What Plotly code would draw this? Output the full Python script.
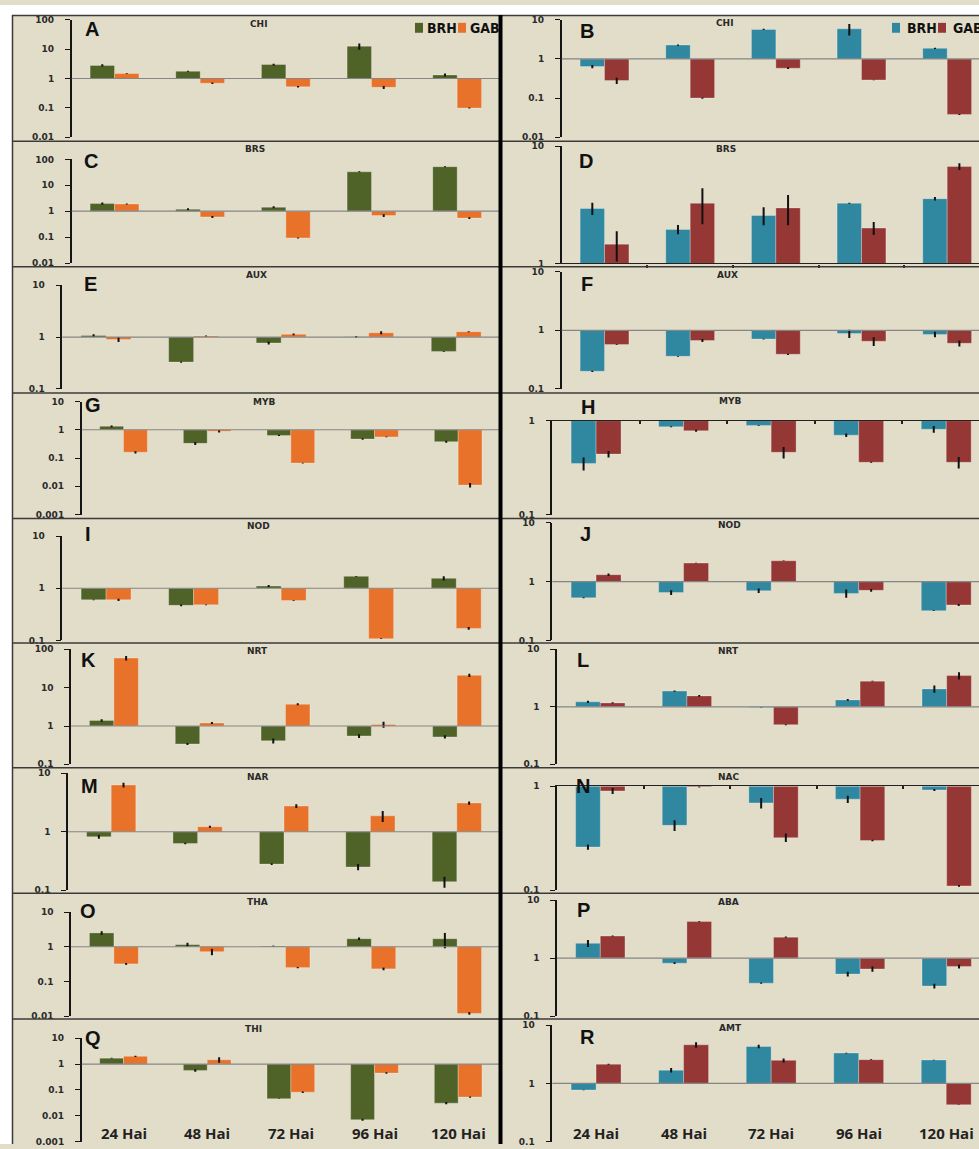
import math
import plotly.graph_objects as go

W, H = 979, 1149

hours = ["24 Hai", "48 Hai", "72 Hai", "96 Hai", "120 Hai"]
decade_vals = [0.001, 0.01, 0.1, 1, 10, 100]
decade_text = ["0.001", "0.01", "0.1", "1", "10", "100"]
series_names = ["BRH", "GAB"]

# Relative expression (fold change) per time point, with error half-widths.
# Left column
a_brh = [2.8, 1.77, 3.0, 12.6, 1.32]
a_brh_err = [0.25, 0.08, 0.2, 3.0, 0.15]
a_gab = [1.47, 0.69, 0.52, 0.5, 0.098]
a_gab_err = [0.05, 0.04, 0.03, 0.06, 0.004]

c_brh = [1.96, 1.19, 1.42, 33, 52]
c_brh_err = [0.2, 0.1, 0.12, 1.5, 2.5]
c_gab = [1.9, 0.6, 0.093, 0.68, 0.54]
c_gab_err = [0.08, 0.05, 0.004, 0.08, 0.04]

e_brh = [1.07, 0.33, 0.77, 1.01, 0.53]
e_brh_err = [0.06, 0.01, 0.05, 0.04, 0.01]
e_gab = [0.9, 1.05, 1.13, 1.21, 1.27]
e_gab_err = [0.1, 0.02, 0.04, 0.08, 0.03]

g_brh = [1.33, 0.33, 0.63, 0.47, 0.38]
g_brh_err = [0.1, 0.04, 0.03, 0.03, 0.03]
g_gab = [0.16, 0.88, 0.066, 0.56, 0.011]
g_gab_err = [0.015, 0.08, 0.002, 0.02, 0.002]

i_brh = [0.6, 0.47, 1.1, 1.69, 1.55]
i_brh_err = [0.01, 0.02, 0.05, 0.03, 0.15]
i_gab = [0.6, 0.48, 0.58, 0.108, 0.17]
i_gab_err = [0.03, 0.01, 0.01, 0.002, 0.01]

k_brh = [1.4, 0.34, 0.41, 0.55, 0.52]
k_brh_err = [0.1, 0.02, 0.06, 0.06, 0.05]
k_gab = [59, 1.2, 3.7, 1.1, 21]
k_gab_err = [8, 0.08, 0.2, 0.2, 2]

m_brh = [0.82, 0.63, 0.28, 0.25, 0.14]
m_brh_err = [0.06, 0.02, 0.01, 0.03, 0.03]
m_gab = [6.3, 1.22, 2.75, 1.87, 3.1]
m_gab_err = [0.6, 0.05, 0.2, 0.4, 0.2]

o_brh = [2.5, 1.15, 1.05, 1.7, 1.7]
o_brh_err = [0.3, 0.15, 0.03, 0.15, 0.8]
o_gab = [0.32, 0.72, 0.25, 0.23, 0.012]
o_gab_err = [0.02, 0.15, 0.01, 0.02, 0.001]

q_brh = [1.7, 0.57, 0.046, 0.0071, 0.031]
q_brh_err = [0.05, 0.06, 0.001, 0.0007, 0.003]
q_gab = [2.0, 1.47, 0.082, 0.45, 0.053]
q_gab_err = [0.1, 0.35, 0.006, 0.03, 0.003]

# Right column
b_brh = [0.64, 2.27, 5.7, 5.9, 1.87]
b_brh_err = [0.06, 0.08, 0.2, 1.9, 0.06]
b_gab = [0.28, 0.1, 0.58, 0.29, 0.038]
b_gab_err = [0.05, 0.004, 0.03, 0.006, 0.001]

d_brh = [2.94, 1.95, 2.56, 3.26, 3.56]
d_brh_err = [0.35, 0.18, 0.45, 0.03, 0.12]
d_gab = [1.46, 3.26, 2.97, 2.0, 6.69]
d_gab_err = [0.42, 1.1, 0.85, 0.25, 0.45]

f_brh = [0.2, 0.36, 0.71, 0.88, 0.85]
f_brh_err = [0.005, 0.005, 0.01, 0.14, 0.09]
f_gab = [0.57, 0.67, 0.39, 0.65, 0.6]
f_gab_err = [0.01, 0.04, 0.01, 0.11, 0.07]

h_brh = [0.35, 0.86, 0.89, 0.7, 0.81]
h_brh_err = [0.055, 0.01, 0.01, 0.03, 0.065]
h_gab = [0.44, 0.78, 0.46, 0.36, 0.36]
h_gab_err = [0.035, 0.02, 0.065, 0.005, 0.05]

j_brh = [0.53, 0.65, 0.7, 0.63, 0.32]
j_brh_err = [0.01, 0.06, 0.06, 0.1, 0.005]
j_gab = [1.31, 2.06, 2.26, 0.71, 0.4]
j_gab_err = [0.06, 0.02, 0.02, 0.04, 0.015]

l_brh = [1.22, 1.88, 0.97, 1.32, 2.05]
l_brh_err = [0.05, 0.05, 0.01, 0.05, 0.3]
l_gab = [1.17, 1.55, 0.49, 2.8, 3.5]
l_gab_err = [0.03, 0.05, 0.01, 0.05, 0.5]

n_brh = [0.26, 0.42, 0.69, 0.75, 0.92]
n_brh_err = [0.015, 0.05, 0.08, 0.06, 0.02]
n_gab = [0.9, 0.98, 0.32, 0.3, 0.11]
n_gab_err = [0.06, 0.01, 0.03, 0.005, 0.002]

p_brh = [1.8, 0.82, 0.37, 0.53, 0.33]
p_brh_err = [0.25, 0.03, 0.01, 0.05, 0.03]
p_gab = [2.4, 4.3, 2.3, 0.65, 0.72]
p_gab_err = [0.05, 0.05, 0.05, 0.07, 0.06]

r_brh = [0.77, 1.68, 4.3, 3.31, 2.52]
r_brh_err = [0.01, 0.15, 0.3, 0.05, 0.03]
r_gab = [2.13, 4.58, 2.48, 2.55, 0.43]
r_gab_err = [0.05, 0.5, 0.2, 0.03, 0.005]

LEFT_COLORS = ("#4F6228", "#E8722A")
RIGHT_COLORS = ("#2F87A0", "#953735")
BG = "#E2DDC8"

# Panel layout: letter, gene, data, column, y-axis x (px), top/bottom (px),
# log10 range, letter centre (px), title centre (px)
panels = [
    dict(letter="A", gene="CHI", d=(a_brh, a_brh_err, a_gab, a_gab_err), side="L",
         ax=71.7, top=15, bot=133.3, lo=-2, hi=2, lxy=(91.5, 24.5), txy=(259, 19.5)),
    dict(letter="B", gene="CHI", d=(b_brh, b_brh_err, b_gab, b_gab_err), side="R",
         ax=561.7, top=15, bot=133.3, lo=-2, hi=1, lxy=(586.5, 26), txy=(725, 18)),
    dict(letter="C", gene="BRS", d=(c_brh, c_brh_err, c_gab, c_gab_err), side="L",
         ax=71.7, top=155.7, bot=260.3, lo=-2, hi=2, lxy=(91, 157), txy=(254.5, 145.5)),
    dict(letter="D", gene="BRS", d=(d_brh, d_brh_err, d_gab, d_gab_err), side="R",
         ax=561.7, top=142.3, bot=260.7, lo=0, hi=1, lxy=(586, 157), txy=(726, 145)),
    dict(letter="E", gene="AUX", d=(e_brh, e_brh_err, e_gab, e_gab_err), side="L",
         ax=62.3, top=282.7, bot=387.3, lo=-1, hi=1, lxy=(90, 281), txy=(256.5, 272.5)),
    dict(letter="F", gene="AUX", d=(f_brh, f_brh_err, f_gab, f_gab_err), side="R",
         ax=561.7, top=269, bot=387.3, lo=-1, hi=1, lxy=(587, 281), txy=(727.5, 272.5)),
    dict(letter="G", gene="MYB", d=(g_brh, g_brh_err, g_gab, g_gab_err), side="L",
         ax=81.7, top=400, bot=514, lo=-3, hi=1, lxy=(93, 404), txy=(264, 400)),
    dict(letter="H", gene="MYB", d=(h_brh, h_brh_err, h_gab, h_gab_err), side="R",
         ax=552.3, top=419.3, bot=514, lo=-1, hi=0, lxy=(588, 406), txy=(729.5, 399)),
    dict(letter="I", gene="NOD", d=(i_brh, i_brh_err, i_gab, i_gab_err), side="L",
         ax=62.3, top=535.7, bot=641, lo=-1, hi=1, lxy=(88, 534), txy=(258, 525.5)),
    dict(letter="J", gene="NOD", d=(j_brh, j_brh_err, j_gab, j_gab_err), side="R",
         ax=552.3, top=522.3, bot=641, lo=-1, hi=1, lxy=(585, 534), txy=(729.5, 525)),
    dict(letter="K", gene="NRT", d=(k_brh, k_brh_err, k_gab, k_gab_err), side="L",
         ax=71, top=650, bot=766, lo=-1, hi=2, lxy=(88, 661), txy=(257, 652)),
    dict(letter="L", gene="NRT", d=(l_brh, l_brh_err, l_gab, l_gab_err), side="R",
         ax=557, top=650, bot=766, lo=-1, hi=1, lxy=(583, 661), txy=(728, 652)),
    dict(letter="M", gene="NAR", d=(m_brh, m_brh_err, m_gab, m_gab_err), side="L",
         ax=68, top=775, bot=893, lo=-1, hi=1, lxy=(89, 788), txy=(257, 779)),
    dict(letter="N", gene="NAC", d=(n_brh, n_brh_err, n_gab, n_gab_err), side="R",
         ax=557, top=788, bot=893, lo=-1, hi=0, lxy=(583, 788), txy=(728, 779)),
    dict(letter="O", gene="THA", d=(o_brh, o_brh_err, o_gab, o_gab_err), side="L",
         ax=71, top=915, bot=1020, lo=-2, hi=1, lxy=(88, 914), txy=(257, 905)),
    dict(letter="P", gene="ABA", d=(p_brh, p_brh_err, p_gab, p_gab_err), side="R",
         ax=557, top=903, bot=1020, lo=-1, hi=1, lxy=(583, 913), txy=(728, 905)),
    dict(letter="Q", gene="THI", d=(q_brh, q_brh_err, q_gab, q_gab_err), side="L",
         ax=81.7, top=1042.3, bot=1146.7, lo=-3, hi=1, lxy=(93, 1042), txy=(253, 1032.5)),
    dict(letter="R", gene="AMT", d=(r_brh, r_brh_err, r_gab, r_gab_err), side="R",
         ax=552.3, top=1029, bot=1146.7, lo=-1, hi=1, lxy=(587, 1041), txy=(730, 1031.5)),
]

BAR_W = 0.285
pos = list(range(len(hours)))

fig = go.Figure()
layout = {}
shapes = []
annotations = []


def px_x(v):
    return v / W


def px_y(v):
    return 1 - v / H


for k, p in enumerate(panels, start=1):
    sfx = "" if k == 1 else str(k)
    xr, yr = "x" + sfx, "y" + sfx
    brh, brh_err, gab, gab_err = p["d"]
    c_b, c_g = LEFT_COLORS if p["side"] == "L" else RIGHT_COLORS
    right = 500 if p["side"] == "L" else 990
    vis_right = min(right, W)
    xmax = -0.5 + len(hours) * (vis_right - p["ax"]) / (right - p["ax"])

    for vals, errs, col, off in ((brh, brh_err, c_b, -BAR_W), (gab, gab_err, c_g, 0.0)):
        # bars grow from the baseline at 1 towards each value
        fig.add_trace(go.Bar(
            x=pos, y=[v - 1 for v in vals], base=1, width=BAR_W, offset=off,
            marker=dict(color=col, line=dict(color="rgba(255,255,255,0.35)", width=0.8)),
            xaxis=xr, yaxis=yr, showlegend=False, hoverinfo="skip"))
        fig.add_trace(go.Scatter(
            x=[i + off + BAR_W / 2 for i in pos], y=vals, mode="markers",
            marker=dict(size=1, opacity=0),
            error_y=dict(type="data", array=errs, color="#111111", thickness=2, width=0),
            xaxis=xr, yaxis=yr, showlegend=False, hoverinfo="skip", cliponaxis=False))

    ticks_v = [v for v in decade_vals if p["lo"] - 1e-9 <= math.log10(v) <= p["hi"] + 1e-9]
    ticks_t = [decade_text[decade_vals.index(v)] for v in ticks_v]

    edge_bottom = p["lo"] == 0
    edge_top = p["hi"] == 0
    xaxis = dict(domain=[px_x(p["ax"]), px_x(vis_right)], range=[-0.5, xmax], anchor=yr,
                 showgrid=False, zeroline=False, showticklabels=False, fixedrange=True)
    if edge_bottom or edge_top:
        xaxis.update(showline=True, linecolor="#222222", linewidth=1.2,
                     tickvals=[i + 0.5 for i in pos[:-1]],
                     ticks="outside" if edge_bottom else "inside",
                     side="bottom" if edge_bottom else "top",
                     ticklen=3, tickwidth=1.5, tickcolor="#222222")
    else:
        xaxis.update(showline=False, ticks="")
    layout["xaxis" + sfx] = xaxis
    layout["yaxis" + sfx] = dict(
        type="log", domain=[px_y(p["bot"]), px_y(p["top"])], range=[p["lo"], p["hi"]],
        anchor=xr, showline=True, linecolor="#151515", linewidth=1.5,
        ticks="outside", ticklen=5, tickwidth=1.2, tickcolor="#151515",
        tickvals=ticks_v, ticktext=ticks_t, ticklabelstandoff=9,
        tickfont=dict(family="DejaVu Sans", size=9, color="#2a2a2a", weight="bold"),
        showgrid=False, zeroline=False, fixedrange=True)

    if not (edge_bottom or edge_top):
        # baseline at 1
        shapes.append(dict(type="line", xref=xr + " domain", x0=0, x1=1, yref=yr, y0=1, y1=1,
                           line=dict(color="#858585", width=1.2)))
        # small ticks between time points on the baseline
        for i in pos[:-1]:
            shapes.append(dict(type="line", xref=xr, x0=i + 0.5, x1=i + 0.5,
                               yref=yr, ysizemode="pixel", yanchor=1, y0=0, y1=-3.5,
                               line=dict(color="#222222", width=1.5)))

    annotations.append(dict(text=p["letter"], x=px_x(p["lxy"][0]), y=px_y(p["lxy"][1]),
                            xref="paper", yref="paper", showarrow=False,
                            xanchor="center", yanchor="middle",
                            font=dict(family="Liberation Sans, Arial", size=20, color="#111111",
                                      weight="bold")))
    annotations.append(dict(text=p["gene"], x=px_x(p["txy"][0]), y=px_y(p["txy"][1]),
                            xref="paper", yref="paper", showarrow=False,
                            xanchor="center", yanchor="middle",
                            font=dict(family="DejaVu Sans", size=9, color="#2a2a2a",
                                      weight="bold")))

    if p["letter"] in ("Q", "R"):
        for i, lab in enumerate(hours):
            annotations.append(dict(text=lab, x=i, xref=xr, y=px_y(1138), yref="paper",
                                    showarrow=False, xanchor="center", yanchor="middle",
                                    font=dict(family="Open Sans", size=15, color="#222222",
                                              weight="bold")))

# Legends at the top of each column
for (sq1, sq2, tx1, tx2), cols in (((415, 458, 425, 468), LEFT_COLORS),
                                    ((892, 938, 905, 951), RIGHT_COLORS)):
    for sq, tx, col, name in ((sq1, tx1, cols[0], series_names[0]),
                              (sq2, tx2, cols[1], series_names[1])):
        shapes.append(dict(type="rect", xref="paper", yref="paper",
                           x0=px_x(sq), x1=px_x(sq + 8), y0=px_y(28), y1=px_y(18),
                           fillcolor=col, line=dict(width=0)))
        annotations.append(dict(text=name, x=px_x(tx), y=px_y(23), xref="paper", yref="paper",
                                showarrow=False, xanchor="left", yanchor="middle",
                                font=dict(family="DejaVu Sans Condensed, Liberation Sans Narrow, Arial Narrow",
                                          size=14, color="#111111", weight="bold")))

# Page frame: white margins, panel borders and central divider
shapes.append(dict(type="rect", xref="paper", yref="paper", x0=0, x1=1, y0=px_y(10), y1=1,
                   fillcolor="white", line=dict(width=0), layer="below"))
shapes.append(dict(type="rect", xref="paper", yref="paper", x0=0, x1=px_x(12), y0=0, y1=1,
                   fillcolor="white", line=dict(width=0), layer="below"))
for yy in (10.5, 137.5, 264, 391.5, 518, 643.5, 769.5, 896, 1023):
    shapes.append(dict(type="line", xref="paper", yref="paper", x0=px_x(12), x1=1,
                       y0=px_y(yy), y1=px_y(yy), line=dict(color="#3a3a3a", width=1.5)))
shapes.append(dict(type="line", xref="paper", yref="paper", x0=px_x(12.5), x1=px_x(12.5),
                   y0=0, y1=px_y(10), line=dict(color="#3a3a3a", width=1.5)))
shapes.append(dict(type="line", xref="paper", yref="paper", x0=px_x(500.5), x1=px_x(500.5),
                   y0=0, y1=px_y(10), line=dict(color="#000000", width=4)))

fig.update_layout(
    width=W, height=H, margin=dict(l=0, r=0, t=0, b=0),
    paper_bgcolor=BG, plot_bgcolor="rgba(0,0,0,0)",
    barmode="overlay", showlegend=False,
    shapes=shapes, annotations=annotations, **layout)

fig.write_html("out.html")
